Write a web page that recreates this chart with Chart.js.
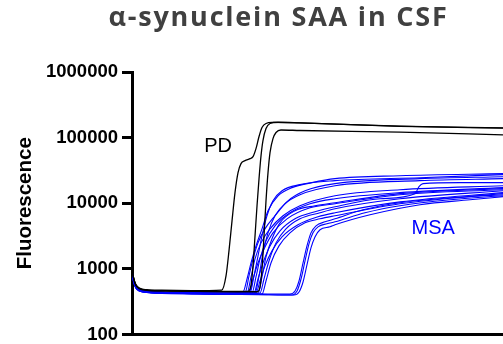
<!DOCTYPE html>
<html>
<head>
<meta charset="utf-8">
<script src="https://cdn.jsdelivr.net/npm/chart.js@4.4.1/dist/chart.umd.min.js"></script>
<style>
  html, body { margin: 0; padding: 0; background: #fff; }
  #wrap { position: relative; width: 503px; height: 344px; overflow: hidden; }
  #saaChart { position: absolute; left: 0; top: 0; }
  #title {
    position: absolute; left: 0; top: 1px; width: 557px;
    text-align: center; white-space: nowrap;
    font-family: 'Open Sans', sans-serif; font-weight: 700; font-size: 27px;
    letter-spacing: 1.8px; line-height: 30px; color: #404040;
  }
</style>
</head>
<body>
<div id="wrap">
  <canvas id="saaChart" width="503" height="344"></canvas>
  <div id="title">α-synuclein SAA in CSF</div>
</div>
<script>
// y axis ticks (log scale)
const yTicks = [100, 1000, 10000, 100000, 1000000];

// PD curves: [time (h), fluorescence]
const pdA = [[0,1000],[0.2,750],[0.5,580],[1,510],[2,482],[4,472],[8,466],[12.1,475],[12.67,780],[13.07,1880],[13.48,5400],[13.88,14500],[14.29,29300],[14.69,40200],[15.23,44600],[15.9,47900],[16.31,51400],[16.71,68100],[17.12,104000],[17.52,142700],[18.06,164300],[18.87,170200],[22.64,167200],[36.12,149400],[50,139200]];
const pdB = [[0,980],[0.2,730],[0.5,570],[1,500],[2,472],[4,462],[8,456],[12,452],[15.63,455],[16.04,567],[16.31,1110],[16.58,3180],[16.85,9160],[17.12,23700],[17.39,53200],[17.65,90300],[18.06,137700],[18.6,164300],[19.68,171400],[22.64,168000],[36.12,148800],[50,140600]];
const pdC = [[0,990],[0.2,740],[0.5,575],[1,505],[2,475],[4,462],[8,455],[12,450],[16.85,448],[17.25,529],[17.52,997],[17.79,3180],[18.06,10900],[18.33,29300],[18.6,59200],[19.0,96600],[19.41,119700],[20.08,130700],[22.64,128400],[36.12,120900],[50,110400]];

// MSA curves
const msaT1 = [[0,960],[0.2,720],[0.5,560],[1,490],[2,460],[4,445],[8,435],[12,430],[14.96,444],[15.5,701],[16.04,1230],[16.71,2240],[17.52,4070],[18.33,7680],[19.68,13000],[21.56,17300],[24.26,20600],[27.36,23700],[36.12,26300],[50,28300]];
const msaT2 = [[0,920],[0.2,680],[0.5,540],[1,475],[2,450],[4,435],[8,425],[12,420],[15.9,428],[16.44,779],[16.98,1570],[17.52,3180],[18.19,6440],[19.0,10900],[20.22,15500],[22.64,19200],[27.36,22100],[38.81,24500],[50,27300]];
const msaT3 = [[0,880],[0.2,650],[0.5,520],[1,465],[2,440],[4,428],[8,420],[12,415],[15.23,428],[15.77,779],[16.31,1416],[16.98,2490],[17.92,4070],[19.27,6440],[21.02,10900],[23.32,15500],[27.36,19900],[38.81,23700],[50,25400]];
const msaT4 = [[0,940],[0.2,700],[0.5,550],[1,480],[2,455],[4,440],[8,430],[12,425],[16.58,428],[17.12,779],[17.65,1750],[18.33,3540],[19.27,6440],[20.62,9830],[22.64,13500],[27.36,18500],[38.81,22100],[50,23700]];
const msaM1 = [[0,900],[0.2,670],[0.5,530],[1,470],[2,448],[4,436],[8,428],[12,422],[15.5,428],[16.04,752],[16.58,1416],[17.39,2490],[18.6,4070],[20.35,6440],[22.64,9160],[27.36,13000],[36.12,16100],[50,18500]];
const msaM2 = [[0,950],[0.2,710],[0.5,555],[1,485],[2,458],[4,442],[8,433],[12,428],[16.17,428],[16.71,752],[17.25,1416],[18.06,2670],[19.27,4530],[21.29,7160],[23.99,9830],[27.36,11700],[36.12,14500],[50,17300]];
const msaM3 = [[0,870],[0.2,645],[0.5,515],[1,460],[2,438],[4,425],[8,418],[12,412],[16.98,420],[17.52,752],[18.06,1520],[18.87,2870],[19.95,5030],[21.97,7680],[24.66,9160],[27.36,10200],[36.12,14000],[50,16700]];
const msaM4 = [[0,930],[0.2,690],[0.5,545],[1,478],[2,452],[4,438],[8,430],[12,424],[15.77,428],[16.31,701],[16.98,1230],[17.79,2010],[19.0,3540],[20.89,5790],[23.99,8530],[27.36,9830],[36.12,13500],[50,16100]];
const msaL1 = [[0,910],[0.2,675],[0.5,535],[1,472],[2,446],[4,433],[8,426],[12,420],[16.44,428],[16.98,701],[17.65,1230],[18.6,2240],[19.95,3800],[21.97,5790],[24.66,7420],[27.36,8840],[33.42,11700],[38.14,14000],[38.68,17900],[39.22,19900],[44.2,20600],[50,20600]];
const msaL2 = [[0,890],[0.2,660],[0.5,525],[1,468],[2,443],[4,430],[8,422],[12,417],[17.25,428],[17.79,701],[18.46,1320],[19.41,2490],[20.75,4070],[22.64,5790],[25.34,7160],[27.36,8240],[36.12,11700],[50,15500]];
const msaL3 = [[0,945],[0.2,705],[0.5,552],[1,483],[2,456],[4,441],[8,432],[12,426],[16.71,428],[17.25,653],[17.92,1110],[18.87,1880],[20.22,3070],[22.37,4690],[25.07,6220],[27.36,7160],[36.12,10500],[50,14500]];
const msaL4 = [[0,860],[0.2,640],[0.5,512],[1,458],[2,436],[4,424],[8,416],[12,410],[17.52,413],[18.06,653],[18.73,1230],[19.81,2240],[21.29,3540],[23.32,5030],[25.34,5790],[27.36,6440],[36.12,9830],[50,14000]];
const msaLate1 = [[0,925],[0.2,690],[0.5,542],[1,476],[2,450],[4,436],[8,427],[12,420],[17,416],[21.29,413],[21.97,459],[22.51,653],[23.05,1230],[23.58,2240],[24.12,3540],[24.8,4530],[26.01,5210],[27.36,5790],[31.13,7950],[36.12,10200],[42.86,12100],[50,13500]];
const msaLate2 = [[0,895],[0.2,665],[0.5,528],[1,466],[2,442],[4,428],[8,420],[12,413],[17,405],[21.56,399],[22.24,459],[22.78,701],[23.32,1320],[23.85,2400],[24.39,3540],[25.07,4370],[26.28,4860],[27.36,5210],[31.4,7160],[36.12,9160],[42.86,11300],[50,13000]];
const msaLate3 = [[0,935],[0.2,695],[0.5,548],[1,480],[2,453],[4,438],[8,428],[12,418],[17,408],[21.83,399],[22.51,444],[23.05,631],[23.58,1150],[24.12,2090],[24.66,3070],[25.34,3940],[26.68,4370],[27.36,4690],[32.08,6670],[38.81,9490],[45.55,11300],[50,12600]];

// group labels drawn inside the plot
const noteText = ['PD', 'MSA'];
const noteT = [11.6, 40.6];
const noteF = [73000, 4070];
const noteColor = ['#000000', '#0000ff'];

const pdCurves = [pdA, pdB, pdC];
const msaCurves = [msaT1, msaT2, msaT3, msaT4, msaM1, msaM2, msaM3, msaM4,
                   msaL1, msaL2, msaL3, msaL4, msaLate1, msaLate2, msaLate3];

const FONT = '"Liberation Sans", Arial, sans-serif';

function toDataset(curve, colour, width) {
    return {
        data: curve.map(([t, f]) => ({ x: t, y: f })),
        borderColor: colour,
        borderWidth: width,
        pointRadius: 0,
        fill: false,
        cubicInterpolationMode: 'monotone'
    };
}

// PD first so the black lines sit on top
const datasets = pdCurves.map(c => toDataset(c, '#000000', 1.3))
    .concat(msaCurves.map(c => toDataset(c, '#0000ff', 1.1)));

// draws "PD" and "MSA" at data positions
const groupLabels = {
    id: 'groupLabels',
    afterDatasetsDraw(chart) {
        const { ctx, scales: { x, y } } = chart;
        ctx.save();
        ctx.font = '20px ' + FONT;
        ctx.textAlign = 'center';
        ctx.textBaseline = 'middle';
        noteText.forEach((s, i) => {
            ctx.fillStyle = noteColor[i];
            ctx.fillText(s, x.getPixelForValue(noteT[i]), y.getPixelForValue(noteF[i]));
        });
        ctx.restore();
    }
};

new Chart(document.getElementById('saaChart').getContext('2d'), {
    type: 'line',
    data: { datasets: datasets },
    options: {
        responsive: false,
        animation: false,
        layout: { padding: { top: 72, right: 0, bottom: 9.5, left: 0 } },
        plugins: {
            legend: { display: false },
            tooltip: { enabled: false }
        },
        scales: {
            x: {
                type: 'linear', min: 0, max: 50,
                afterFit: axis => { axis.height = 0; },
                ticks: { display: false },
                grid: { display: false, drawTicks: false },
                border: { display: true, color: '#000', width: 3 }
            },
            y: {
                type: 'logarithmic', min: 100, max: 1000000,
                afterBuildTicks: axis => { axis.ticks = yTicks.map(v => ({ value: v })); },
                afterFit: axis => {
                    axis.width = 132;
                    axis.paddingTop = 0;
                    axis.paddingBottom = 0;
                },
                ticks: {
                    color: '#000', padding: 4, autoSkip: false,
                    font: { family: FONT, size: 18.5, weight: 'bold' },
                    callback: v => String(v)
                },
                grid: {
                    drawOnChartArea: false, drawTicks: true,
                    tickLength: 10, tickWidth: 3, tickColor: '#000', color: '#000'
                },
                border: { display: true, color: '#000', width: 3 },
                title: {
                    display: true, text: 'Fluorescence', color: '#000',
                    font: { family: FONT, size: 20.5, weight: 'bold' },
                    padding: { top: 13, bottom: 0 }
                }
            }
        }
    },
    plugins: [groupLabels]
});
</script>
</body>
</html>
